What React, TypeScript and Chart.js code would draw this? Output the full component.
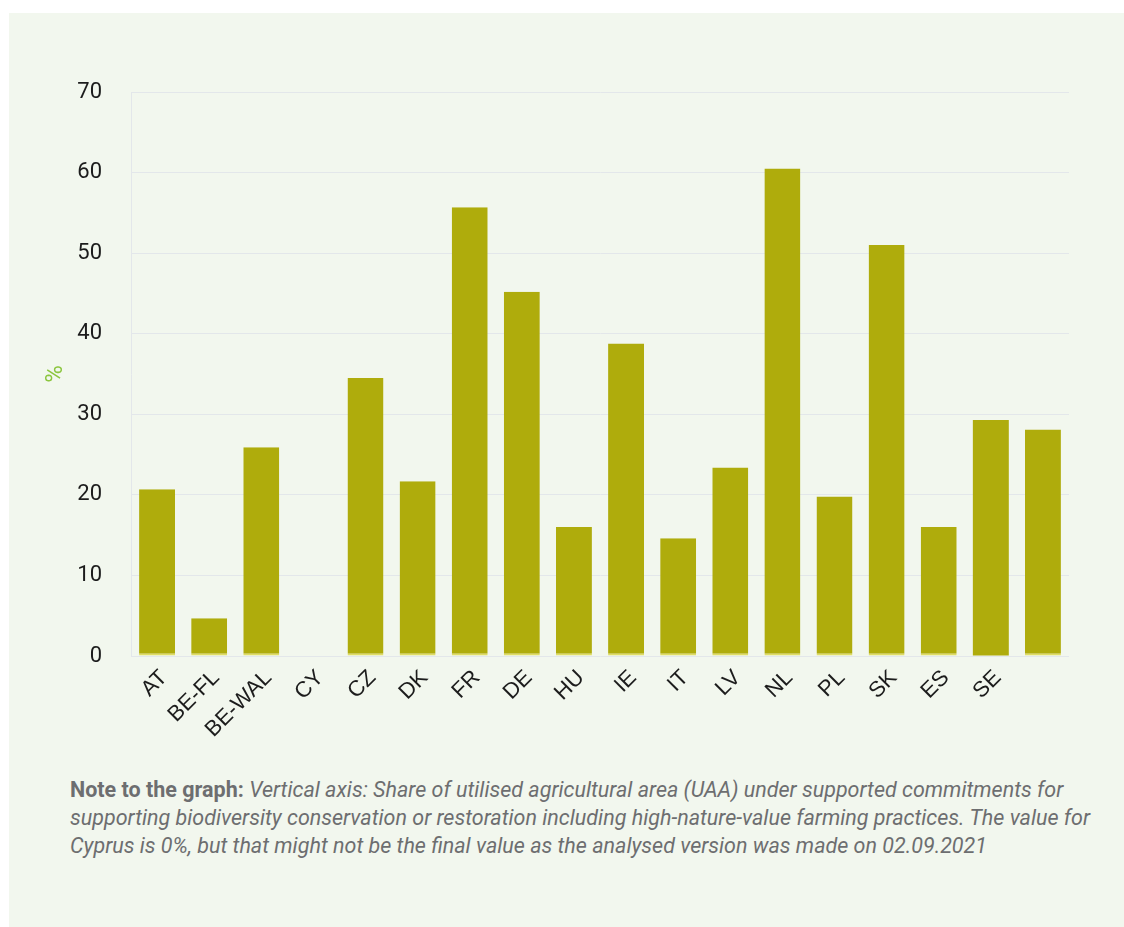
import React, { useEffect, useRef } from "react";
import { Chart, registerables } from "chart.js";

Chart.register(...registerables);

// Member states / regions on the horizontal axis
const categories: string[] = [
  "AT", "BE-FL", "BE-WAL", "CY", "CZ", "DK", "FR", "DE", "HU",
  "IE", "IT", "LV", "NL", "PL", "SK", "ES", "SE", "",
];

// Share of UAA under supported biodiversity commitments (%)
const shareValues: number[] = [
  20.7, 4.7, 25.9, 0, 34.5, 21.7, 55.7, 45.2, 16.0,
  38.8, 14.6, 23.4, 60.5, 19.8, 51.0, 16.0, 29.3, 28.1,
];

const yTicks = { min: 0, max: 70, step: 10 };

const BAR_COLOR = "#afac0c";
const BAR_BASE_COLOR = "#e0dd66";
const GRID_COLOR = "#e3e7ea";
const TEXT_COLOR = "#1c1c1c";

function BarChart() {
  const canvasRef = useRef<HTMLCanvasElement | null>(null);

  useEffect(() => {
    if (!canvasRef.current) return;
    const chart = new Chart(canvasRef.current, {
      type: "bar",
      data: {
        labels: categories,
        datasets: [
          {
            label: "%",
            data: shareValues,
            backgroundColor: BAR_COLOR,
            borderColor: BAR_BASE_COLOR,
            borderSkipped: false,
            borderWidth: (ctx: any) =>
              ctx.dataIndex === 16 ? 0 : { top: 0, left: 0, right: 0, bottom: 2 },
            categoryPercentage: 1,
            barPercentage: 0.69,
          },
        ],
      },
      options: {
        responsive: false,
        animation: false,
        maintainAspectRatio: false,
        layout: { padding: { top: 79, right: 55, bottom: 0, left: 0 } },
        plugins: {
          legend: { display: false },
          tooltip: { enabled: false },
        },
        scales: {
          x: {
            grid: { display: false, drawTicks: false },
            border: { display: false },
            ticks: {
              autoSkip: false,
              minRotation: 45,
              maxRotation: 45,
              padding: 9,
              labelOffset: 7,
              color: TEXT_COLOR,
              font: { family: "'Liberation Sans', Arial, sans-serif", size: 22 },
            },
            afterFit: (scale: any) => {
              scale.height = 117;
            },
          },
          y: {
            min: yTicks.min,
            max: yTicks.max,
            grid: { color: GRID_COLOR, drawTicks: false, lineWidth: 1 },
            border: { display: true, color: GRID_COLOR },
            ticks: {
              stepSize: yTicks.step,
              padding: 29,
              color: TEXT_COLOR,
              font: { family: "Roboto, 'Liberation Sans', sans-serif", size: 22 },
            },
            title: {
              display: true,
              text: "%",
              color: "#8cc63f",
              padding: { top: 33, bottom: 0 },
              font: { family: "Roboto, 'Liberation Sans', sans-serif", size: 24 },
            },
            afterFit: (scale: any) => {
              scale.width = 122;
            },
          },
        },
      },
    } as any);
    return () => chart.destroy();
  }, []);

  return (
    <canvas
      ref={canvasRef}
      width={1115}
      height={760}
      style={{ position: "absolute", left: 0, top: 0, width: 1115, height: 760 }}
    />
  );
}

export default function App() {
  return (
    <div
      style={{
        position: "absolute",
        left: 9,
        top: 13,
        width: 1115,
        height: 914,
        background: "#f2f7ee",
        overflow: "hidden",
      }}
    >
      <BarChart />
      <div
        style={{
          position: "absolute",
          left: 61,
          top: 763,
          width: 1050,
          fontFamily: "Roboto, sans-serif",
          fontSize: 21.5,
          lineHeight: "28px",
          color: "#6d6e70",
          whiteSpace: "nowrap",
        }}
      >
        <b style={{ fontWeight: 700 }}>Note to the graph:</b>{" "}
        <i>
          Vertical axis: Share of utilised agricultural area (UAA) under supported commitments for
          <br />
          supporting biodiversity conservation or restoration including high-nature-value farming practices. The value for
          <br />
          Cyprus is 0%, but that might not be the final value as the analysed version was made on 02.09.2021
        </i>
      </div>
    </div>
  );
}
